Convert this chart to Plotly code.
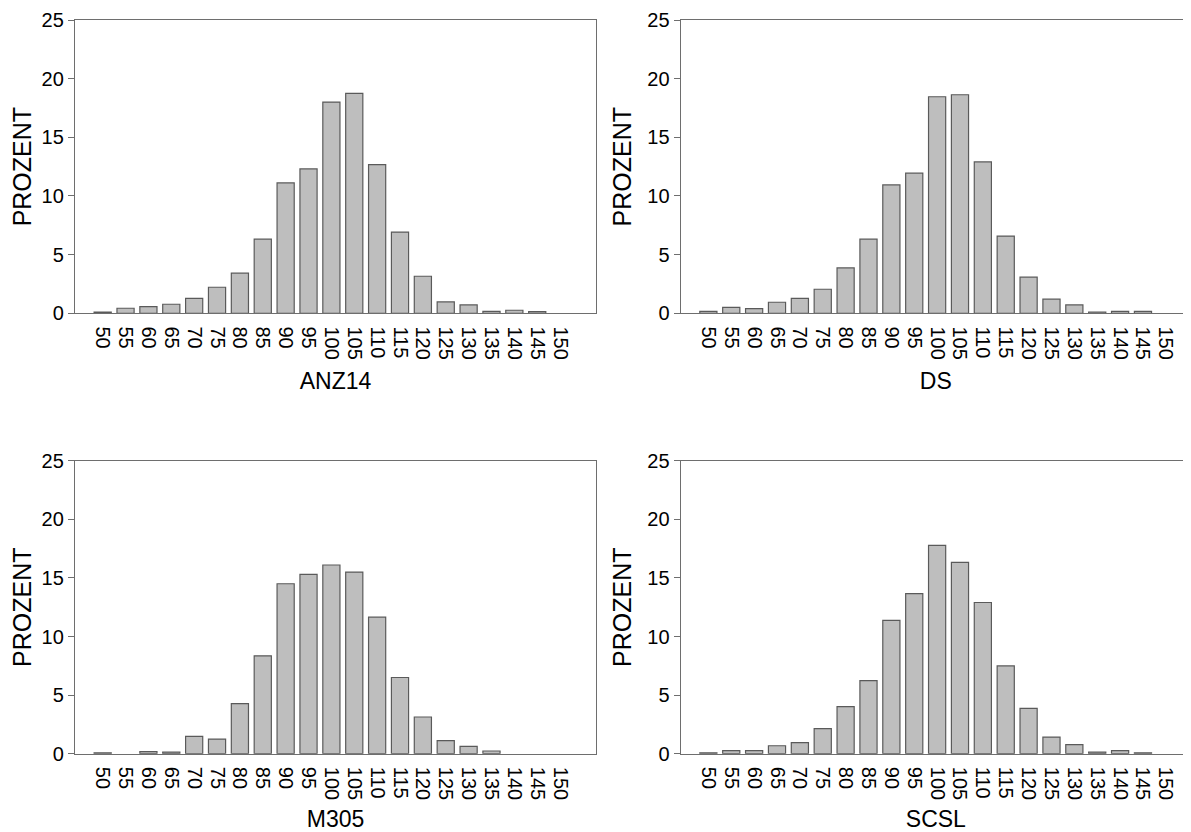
import plotly.graph_objects as go

categories = ["50", "55", "60", "65", "70", "75", "80", "85", "90", "95", "100",
              "105", "110", "115", "120", "125", "130", "135", "140", "145", "150"]

anz14 = [0.1, 0.43, 0.57, 0.77, 1.28, 2.22, 3.42, 6.32, 11.11, 12.31, 18.0,
         18.75, 12.68, 6.92, 3.16, 0.97, 0.71, 0.17, 0.26, 0.14, 0.0]
ds = [0.17, 0.51, 0.4, 0.94, 1.28, 2.05, 3.87, 6.32, 10.94, 11.94, 18.46,
      18.63, 12.9, 6.58, 3.08, 1.2, 0.71, 0.11, 0.17, 0.17, 0.0]
m305 = [0.08, 0.0, 0.17, 0.14, 1.48, 1.25, 4.27, 8.35, 14.5, 15.3, 16.1,
        15.5, 11.65, 6.5, 3.13, 1.11, 0.63, 0.23, 0.0, 0.0, 0.0]
scsl = [0.08, 0.26, 0.26, 0.68, 0.94, 2.14, 4.02, 6.24, 11.37, 13.65, 17.78,
        16.32, 12.9, 7.49, 3.87, 1.42, 0.77, 0.14, 0.26, 0.08, 0.0]

panels = [("ANZ14", anz14), ("DS", ds), ("M305", m305), ("SCSL", scsl)]
y_title = "PROZENT"
y_ticks = [0, 5, 10, 15, 20, 25]

# page body has an 8px margin, so the figure is drawn 8px in from the corner
OFF = 8
W, H = 1191 - OFF, 832 - OFF
xdoms = [[(75 - OFF) / W, (596 - OFF) / W], [(680.7 - OFF) / W, 1.0]]
ydoms = [[1 - (313.3 - OFF) / H, 1 - (20 - OFF) / H],
         [1 - (753.7 - OFF) / H, 1 - (460.7 - OFF) / H]]
xranges = [[-1.21, 21.57], [-1.21, 21.1]]

FONT = "Liberation Sans, Arial, sans-serif"
AXC = "#6e6e6e"

fig = go.Figure()
for i, (name, vals) in enumerate(panels):
    row, col = divmod(i, 2)
    n = i + 1
    xa = "x" if n == 1 else f"x{n}"
    ya = "y" if n == 1 else f"y{n}"
    fig.add_trace(go.Bar(
        x=categories, y=vals, xaxis=xa, yaxis=ya,
        marker=dict(color="#bebebe",
                    line=dict(color="#5a5a5a",
                              width=[1.2 if v > 0 else 0 for v in vals])),
        width=0.75, showlegend=False, hoverinfo="x+y",
    ))
    xkey = "xaxis" if n == 1 else f"xaxis{n}"
    ykey = "yaxis" if n == 1 else f"yaxis{n}"
    fig.layout[xkey] = dict(
        domain=xdoms[col], anchor=ya, type="category",
        range=xranges[col], showgrid=False, zeroline=False,
        showline=True, linecolor=AXC, linewidth=1.3,
        mirror=True, ticks="", tickangle=90, ticklabelstandoff=8,
        tickmode="array", tickvals=categories, ticktext=categories,
        automargin=False,
        tickfont=dict(family=FONT, size=20, color="black"),
        title=dict(text=name, font=dict(family=FONT, size=23, color="black"),
                   standoff=14),
        fixedrange=True,
    )
    fig.layout[ykey] = dict(
        domain=ydoms[row], anchor=xa, range=[0, 25],
        tickmode="array", tickvals=y_ticks, showgrid=False, zeroline=False,
        showline=True, linecolor=AXC, linewidth=1.3,
        mirror=(col == 0), ticks="outside", ticklen=6, tickcolor=AXC,
        tickwidth=1.2, automargin=False,
        tickfont=dict(family=FONT, size=20, color="black"),
        title=dict(text=y_title, font=dict(family=FONT, size=25, color="black"),
                   standoff=8),
        fixedrange=True,
    )

fig.update_layout(
    width=W, height=H,
    margin=dict(l=0, r=0, t=0, b=0, autoexpand=False),
    paper_bgcolor="white", plot_bgcolor="white",
    bargap=0.25,
)

fig.write_html("out.html")
